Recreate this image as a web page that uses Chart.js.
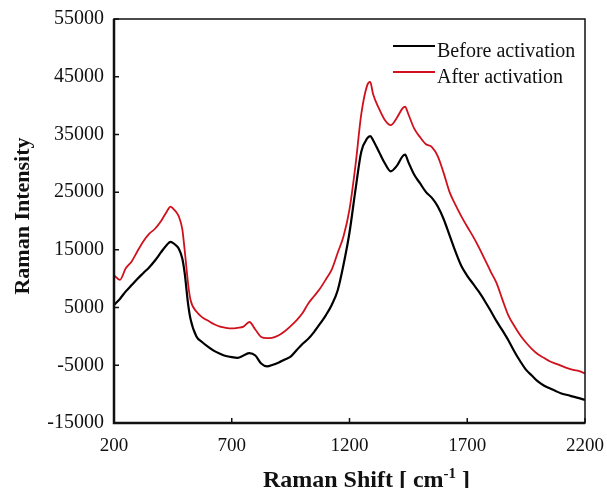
<!DOCTYPE html>
<html>
<head>
<meta charset="utf-8">
<script src="https://cdn.jsdelivr.net/npm/chart.js@4/dist/chart.umd.min.js"></script>
<style>
  html, body { margin: 0; padding: 0; background: #fff; }
  #wrap { width: 607px; height: 488px; position: relative; }
</style>
</head>
<body>
<div id="wrap"><canvas id="ramanChart"></canvas></div>
<script>
// Raman shift (cm-1)
const shifts = [
  200, 225, 250, 275, 300, 325, 350, 375, 400, 425, 440, 450, 465, 475, 490, 500, 515, 525, 550, 575,
  600, 625, 650, 675, 700, 725, 750, 775, 800, 825, 850, 875, 900, 925, 950, 975, 1000, 1025, 1050, 1075,
  1100, 1125, 1150, 1175, 1200, 1225, 1250, 1275, 1288, 1300, 1325, 1350, 1375, 1400, 1425, 1436, 1450, 1475, 1500, 1525,
  1550, 1575, 1600, 1625, 1650, 1675, 1700, 1725, 1750, 1775, 1800, 1825, 1850, 1875, 1900, 1925, 1950, 1975, 2000, 2025,
  2050, 2075, 2100, 2125, 2150, 2175, 2200
];

const beforeActivation = [
  5450, 6500, 7800, 8900, 10000, 11000, 12000, 13200, 14600, 15900, 16400, 16200, 15700, 15200, 13500, 11000, 5500, 3000, 0, -1000,
  -1800, -2500, -3000, -3400, -3600, -3700, -3300, -2900, -3300, -4700, -5200, -4900, -4500, -4000, -3500, -2400, -1300, -400, 800, 2200,
  3700, 5500, 8000, 12500, 18000, 25300, 32000, 34300, 34700, 34000, 32000, 30000, 28600, 29500, 31200, 31500, 30200, 28000, 26500, 25000,
  24000, 22500, 20300, 17500, 14700, 12200, 10500, 9100, 7700, 6100, 4400, 2600, 1000, -700, -2600, -4300, -5800, -6800, -7800, -8500,
  -9000, -9450, -9900, -10150, -10440, -10700, -11000
];

const afterActivation = [
  10600, 9800, 11800, 13000, 14800, 16500, 17800, 18700, 20000, 21700, 22500, 22200, 21500, 20800, 18600, 15000, 9000, 6300, 4300, 3300,
  2700, 2100, 1700, 1500, 1400, 1500, 1700, 2500, 1200, -100, -300, -200, 200, 900, 1800, 2800, 4000, 5700, 7000, 8300,
  9900, 11600, 14500, 17400, 22000, 29500, 38500, 43500, 44100, 42000, 39500, 37500, 36600, 37800, 39500, 39800, 38500, 36000, 34500, 33300,
  32800, 31200, 28300, 25000, 22800, 20800, 19000, 17300, 15400, 13300, 11200, 9200, 6300, 3600, 1800, 200, -1100, -2200, -3100, -3700,
  -4300, -4700, -5100, -5500, -5800, -6000, -6400
];

const xTickValues = [200, 700, 1200, 1700, 2200];
const yTickValues = [-15000, -5000, 5000, 15000, 25000, 35000, 45000, 55000];

const SERIF = '"Liberation Serif", "Times New Roman", serif';

// Kotak plot + tick ke dalam
const framePlugin = {
  id: "frame",
  afterDraw(chart) {
    const { ctx, chartArea: a, scales } = chart;
    ctx.save();
    ctx.strokeStyle = "#111";
    ctx.lineWidth = 1.5;
    ctx.strokeRect(a.left, a.top, a.right - a.left, a.bottom - a.top);
    ctx.lineWidth = 2.5;
    ctx.beginPath();
    ctx.moveTo(a.left, a.top);
    ctx.lineTo(a.left, a.bottom);
    ctx.lineTo(a.right, a.bottom);
    ctx.stroke();

    ctx.lineWidth = 1.5;
    ctx.beginPath();
    xTickValues.forEach((v) => {
      const px = scales.x.getPixelForValue(v);
      ctx.moveTo(px, a.bottom);
      ctx.lineTo(px, a.bottom - 5);
    });
    yTickValues.forEach((v) => {
      const py = scales.y.getPixelForValue(v);
      ctx.moveTo(a.left, py);
      ctx.lineTo(a.left + 5, py);
    });
    ctx.stroke();
    ctx.restore();
  },
};

// Judul sumbu + legenda
const labelPlugin = {
  id: "labels",
  afterDraw(chart) {
    const { ctx, chartArea: a } = chart;
    ctx.save();
    ctx.fillStyle = "#111";

    // judul sumbu x dengan superscript
    const big = "bold 24px " + SERIF;
    const sup = "bold 15px " + SERIF;
    const p1 = "Raman Shift [ cm";
    const p2 = "-1";
    const p3 = " ]";
    ctx.font = big;
    const w1 = ctx.measureText(p1).width;
    const w3 = ctx.measureText(p3).width;
    ctx.font = sup;
    const w2 = ctx.measureText(p2).width;
    const total = w1 + w2 + w3;
    let x = (a.left + a.right) / 2 + 17 - total / 2;
    const base = 486.5;
    ctx.textBaseline = "alphabetic";
    ctx.textAlign = "left";
    ctx.font = big;
    ctx.fillText(p1, x, base);
    x += w1;
    ctx.font = sup;
    ctx.fillText(p2, x, base - 9);
    x += w2;
    ctx.font = big;
    ctx.fillText(p3, x, base);

    // judul sumbu y
    ctx.save();
    ctx.translate(28.5, (a.top + a.bottom) / 2 - 5);
    ctx.rotate(-Math.PI / 2);
    ctx.textAlign = "center";
    ctx.font = "bold 22px " + SERIF;
    ctx.fillText("Raman Intensity", 0, 0);
    ctx.restore();

    // legenda
    ctx.font = "20px " + SERIF;
    ctx.textAlign = "left";
    chart.data.datasets.forEach((ds, i) => {
      const y = a.top + 27 + i * 26;
      ctx.strokeStyle = ds.borderColor;
      ctx.lineWidth = ds.borderWidth;
      ctx.beginPath();
      ctx.moveTo(a.right - 192, y);
      ctx.lineTo(a.right - 150, y);
      ctx.stroke();
      ctx.fillStyle = "#111";
      ctx.fillText(ds.label, a.right - 148, y + 10.5);
    });
    ctx.restore();
  },
};

const toPoints = (ys) => shifts.map((s, i) => ({ x: s, y: ys[i] }));

new Chart(document.getElementById("ramanChart"), {
  type: "line",
  data: {
    datasets: [
      {
        label: "Before activation",
        data: toPoints(beforeActivation),
        borderColor: "#000000",
        borderWidth: 2.2,
        pointRadius: 0,
        cubicInterpolationMode: "monotone",
      },
      {
        label: "After activation",
        data: toPoints(afterActivation),
        borderColor: "#d0101c",
        borderWidth: 1.8,
        pointRadius: 0,
        cubicInterpolationMode: "monotone",
      },
    ],
  },
  options: {
    responsive: true,
    maintainAspectRatio: false,
    animation: false,
    layout: { padding: { top: 19, right: 22, left: 0, bottom: 0 } },
    plugins: {
      legend: { display: false },
      tooltip: { enabled: false },
    },
    scales: {
      x: {
        type: "linear",
        min: 200,
        max: 2200,
        grid: { display: false, drawTicks: false },
        border: { display: false },
        afterBuildTicks: (s) => { s.ticks = xTickValues.map((v) => ({ value: v })); },
        afterFit: (s) => { s.height = 65; s.paddingLeft = 0; s.paddingRight = 0; },
        ticks: {
          autoSkip: false,
          maxRotation: 0,
          padding: 12,
          color: "#111",
          font: { family: SERIF, size: 19 },
          callback: (v) => String(v),
        },
      },
      y: {
        min: -15000,
        max: 55000,
        grid: { display: false, drawTicks: false },
        border: { display: false },
        afterBuildTicks: (s) => { s.ticks = yTickValues.map((v) => ({ value: v })); },
        afterFit: (s) => { s.width = 114; s.paddingTop = 0; s.paddingBottom = 0; },
        ticks: {
          autoSkip: false,
          padding: 10,
          color: "#111",
          font: { family: SERIF, size: 20 },
          callback: (v) => String(v),
        },
      },
    },
  },
  plugins: [framePlugin, labelPlugin],
});
</script>
</body>
</html>
